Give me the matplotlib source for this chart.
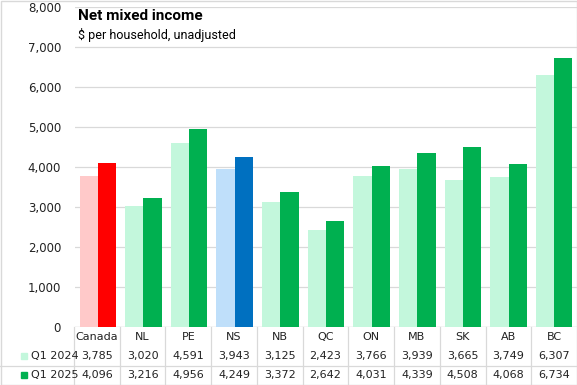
import numpy as np
import matplotlib
matplotlib.use("Agg")
import matplotlib.pyplot as plt
from matplotlib.patches import Rectangle
from matplotlib.lines import Line2D

regions = ["Canada", "NL", "PE", "NS", "NB", "QC", "ON", "MB", "SK", "AB", "BC"]
q1_2024 = [3785, 3020, 4591, 3943, 3125, 2423, 3766, 3939, 3665, 3749, 6307]
q1_2025 = [4096, 3216, 4956, 4249, 3372, 2642, 4031, 4339, 4508, 4068, 6734]
series_names = ["Q1 2024", "Q1 2025"]

light_col = {"Canada": "#ffc9c9", "NS": "#bfdffa"}
dark_col = {"Canada": "#ff0000", "NS": "#0070c0"}
green_light = "#c3f7dc"
green_dark = "#00b050"
grid_col = "#d9d9d9"
txt_col = "#222222"

W, H = 577, 385
fig = plt.figure(figsize=(W / 100, H / 100), dpi=100)
ax = fig.add_axes([75 / W, 1 - 327 / H, 502 / W, 320 / H])

x = np.arange(len(regions))
bw = 0.4
c24 = [light_col.get(r, green_light) for r in regions]
c25 = [dark_col.get(r, green_dark) for r in regions]
ax.bar(x - bw / 2, q1_2024, bw, color=c24, zorder=2)
ax.bar(x + bw / 2, q1_2025, bw, color=c25, zorder=2)

ax.set_xlim(-0.5, len(regions) - 0.5)
ax.set_ylim(0, 8000)
ax.set_yticks(np.arange(0, 8001, 1000))
ax.set_yticklabels([f"{v:,}" for v in range(0, 8001, 1000)], fontsize=8.5, color=txt_col)
ax.yaxis.grid(True, color=grid_col, lw=0.9, zorder=0)
ax.tick_params(axis="y", length=0, pad=10)
ax.set_xticks([])
for s in ax.spines.values():
    s.set_visible(False)
ax.axhline(0, color=grid_col, lw=0.9, zorder=1)

ax.text(0.005, 0.972, "Net mixed income", transform=ax.transAxes,
        fontsize=11, fontweight="bold", family="Roboto", va="center", ha="left")
ax.text(0.005, 0.912, "$ per household, unadjusted", transform=ax.transAxes,
        fontsize=9, family="Roboto", va="center", ha="left")

# data table below the axes
row_h = 19.3 / H
y0 = 1 - 327 / H
left = 74 / W
colw = (1 - left) / len(regions)
ft = fig.transFigure
fig.add_artist(Line2D([0, 1], [y0 - 2 * row_h] * 2, color=grid_col, lw=0.9, transform=ft))
for i in range(len(regions)):
    xx = left + i * colw
    fig.add_artist(Line2D([xx, xx], [y0, 0], color=grid_col, lw=0.9, transform=ft))

for i, r in enumerate(regions):
    cx = left + (i + 0.5) * colw
    fig.text(cx, y0 - 0.5 * row_h, r, ha="center", va="center", fontsize=8, color=txt_col)
    fig.text(cx, y0 - 1.5 * row_h, f"{q1_2024[i]:,}", ha="center", va="center", fontsize=8, color=txt_col)
    fig.text(cx, y0 - 2.5 * row_h, f"{q1_2025[i]:,}", ha="center", va="center", fontsize=8, color=txt_col)

for k, (name, col) in enumerate(zip(series_names, [green_light, green_dark])):
    cy = y0 - (1.5 + k) * row_h
    fig.add_artist(Rectangle((21 / W, cy - 3 / H), 6 / W, 6 / H, color=col, transform=ft))
    fig.text(31 / W, cy, name, ha="left", va="center", fontsize=8, color=txt_col)

fig.add_artist(Rectangle((0.5 / W, 0.5 / H), 1 - 1 / W, 1 - 1 / H, fill=False,
                         edgecolor=grid_col, lw=1, transform=ft))

fig.savefig("out.png", dpi=100)
